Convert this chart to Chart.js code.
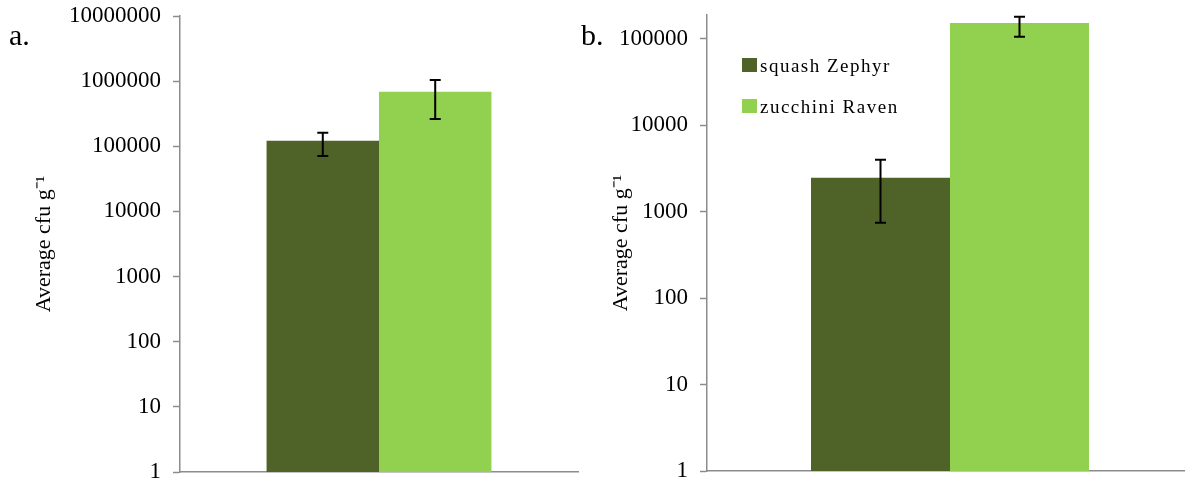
<!DOCTYPE html>
<html>
<head>
<meta charset="utf-8">
<script src="https://cdn.jsdelivr.net/npm/chart.js@4.4.0/dist/chart.umd.min.js"></script>
<style>
  html, body { margin: 0; padding: 0; background: #fff; overflow: hidden; }
  body { width: 1185px; height: 483px; position: relative; }
  canvas { position: absolute; top: 0; }
  #chartA { left: 0; }
  #chartB { left: 590px; }
  .panel { position: absolute; font-family: 'Liberation Serif', serif; font-size: 30px; color: #000; }
</style>
</head>
<body>
<canvas id="chartA" width="590" height="483"></canvas>
<canvas id="chartB" width="610" height="483"></canvas>
<div class="panel" style="left:9px; top:18px;">a.</div>
<div class="panel" style="left:581px; top:18px;">b.</div>
<script>
const seriesNames = ['squash Zephyr', 'zucchini Raven'];
const seriesColors = ['#4F6228', '#92D050'];

// panel a
const valuesA = [121600, 687000];
const errLowA = [70700, 262000];
const errHighA = [161000, 1040000];
const yTicksA = [1, 10, 100, 1000, 10000, 100000, 1000000, 10000000];

// panel b
const valuesB = [2460, 151000];
const errLowB = [742, 105000];
const errHighB = [3970, 178700];
const yTicksB = [1, 10, 100, 1000, 10000, 100000];

const axisColor = '#8c8c8c';
const fontFamily = "'Liberation Serif', serif";

function errorBars(low, high) {
  return {
    id: 'errorBars',
    afterDatasetsDraw(chart) {
      const ctx = chart.ctx;
      const y = chart.scales.y;
      ctx.save();
      ctx.strokeStyle = '#000';
      ctx.lineWidth = 2;
      chart.data.datasets.forEach((ds, i) => {
        const bar = chart.getDatasetMeta(i).data[0];
        const top = y.getPixelForValue(high[i]);
        const bot = y.getPixelForValue(low[i]);
        ctx.beginPath();
        ctx.moveTo(bar.x, top); ctx.lineTo(bar.x, bot);
        ctx.moveTo(bar.x - 5.5, top); ctx.lineTo(bar.x + 5.5, top);
        ctx.moveTo(bar.x - 5.5, bot); ctx.lineTo(bar.x + 5.5, bot);
        ctx.stroke();
      });
      ctx.restore();
    }
  };
}

// legend sits inside the plot area of panel b
const legendB = {
  id: 'legendB',
  afterDraw(chart) {
    const ctx = chart.ctx;
    ctx.save();
    ctx.font = '19px ' + fontFamily;
    ctx.letterSpacing = '1.5px';
    ctx.textBaseline = 'alphabetic';
    chart.data.datasets.forEach((ds, i) => {
      const y = 58 + i * 41;
      ctx.fillStyle = ds.backgroundColor;
      ctx.fillRect(152, y, 15, 14);
      ctx.fillStyle = '#000';
      ctx.fillText(ds.label, 170, y + 14);
    });
    ctx.restore();
  }
};

function makeChart(id, values, low, high, ticks, yMax, o, extra) {
  return new Chart(document.getElementById(id), {
    type: 'bar',
    data: {
      labels: [''],
      datasets: seriesNames.map((name, i) => ({
        label: name,
        data: [values[i]],
        backgroundColor: seriesColors[i],
        categoryPercentage: o.catPct,
        barPercentage: 1
      }))
    },
    options: {
      responsive: false,
      animation: false,
      layout: { padding: { left: 0, right: o.padRight, top: o.padTop, bottom: o.padBottom } },
      plugins: { legend: { display: false }, tooltip: { enabled: false } },
      scales: {
        x: {
          grid: { display: false },
          ticks: { display: false },
          border: { display: true, color: axisColor, width: 1.5 },
          afterFit: s => { s.height = 0; s.paddingLeft = 0; s.paddingRight = 0; }
        },
        y: {
          type: 'logarithmic',
          min: 1,
          max: yMax,
          grid: { drawOnChartArea: false, drawTicks: true, tickLength: 7, tickColor: axisColor, tickWidth: 1.5 },
          border: { color: axisColor, width: 1.5 },
          ticks: {
            color: '#000',
            padding: 12,
            font: { family: fontFamily, size: 23 },
            callback: v => String(v)
          },
          afterBuildTicks: s => { s.ticks = ticks.map(v => ({ value: v })); },
          title: {
            display: true,
            text: 'Average cfu g\u207B\u00B9',
            color: '#000',
            font: { family: fontFamily, size: 22 },
            padding: { top: o.titlePad, bottom: 0 }
          },
          afterFit: s => { s.width = o.axisWidth; s.paddingTop = 0; s.paddingBottom = 0; }
        }
      }
    },
    plugins: [errorBars(low, high)].concat(extra)
  });
}

makeChart('chartA', valuesA, errLowA, errHighA, yTicksA, 10000000,
  { catPct: 0.565, padRight: 12, padTop: 16, padBottom: 11, axisWidth: 180, titlePad: 31 }, []);

makeChart('chartB', valuesB, errLowB, errHighB, yTicksB, 187000,
  { catPct: 0.572, padRight: 7, padTop: 15, padBottom: 12, axisWidth: 117, titlePad: 18 }, [legendB]);
</script>
</body>
</html>
